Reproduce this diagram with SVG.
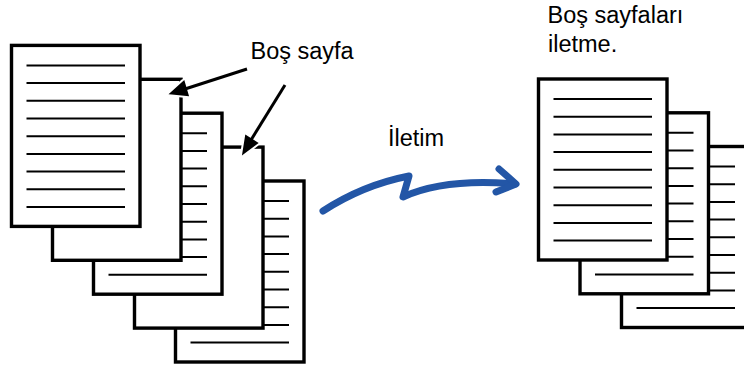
<svg xmlns="http://www.w3.org/2000/svg" xmlns:xlink="http://www.w3.org/1999/xlink" width="744" height="371" viewBox="0 0 744 371">
<style>
.pg{fill:#fff;stroke:#000;stroke-width:3.4;stroke-linejoin:miter}
.ln{stroke:#000;stroke-width:2}
.lbl{font-family:"Liberation Sans",Arial,sans-serif;font-size:23.5px;fill:#000}
.halo{stroke:#fff;stroke-width:7;fill:#fff;stroke-linejoin:round}
.blk{stroke:#000;stroke-width:3;fill:#000}
.blue{fill:none;stroke:#2356a6;stroke-width:7;stroke-linecap:round;stroke-linejoin:round}
</style>
<defs>
<g id="blank"><rect class="pg" x="0" y="0" width="128.5" height="181"/></g>
<g id="lined">
<rect class="pg" x="0" y="0" width="128.5" height="181"/>
<g class="ln">
<line x1="15" y1="20" x2="113.5" y2="20"/>
<line x1="15" y1="37.7" x2="113.5" y2="37.7"/>
<line x1="15" y1="55.4" x2="113.5" y2="55.4"/>
<line x1="15" y1="73.1" x2="113.5" y2="73.1"/>
<line x1="15" y1="90.8" x2="113.5" y2="90.8"/>
<line x1="15" y1="108.5" x2="113.5" y2="108.5"/>
<line x1="15" y1="126.2" x2="113.5" y2="126.2"/>
<line x1="15" y1="143.9" x2="113.5" y2="143.9"/>
<line x1="15" y1="161.6" x2="113.5" y2="161.6"/>
</g>
</g>
</defs>
<rect width="744" height="371" fill="#fff"/>

<g id="left-page5" transform="translate(175.5,181)"><use xlink:href="#lined"/></g>
<g id="left-page4" transform="translate(134.5,147.1)"><use xlink:href="#blank"/></g>
<g id="left-page3" transform="translate(93.5,113.2)"><use xlink:href="#lined"/></g>
<g id="left-page2" transform="translate(52.5,79.3)"><use xlink:href="#blank"/></g>
<g id="left-page1" transform="translate(11.5,45.4)"><use xlink:href="#lined"/></g>

<g id="right-page3" transform="translate(621.5,146.5)"><use xlink:href="#lined"/></g>
<g id="right-page2" transform="translate(580,112.8)"><use xlink:href="#lined"/></g>
<g id="right-page1" transform="translate(538.5,79)"><use xlink:href="#lined"/></g>

<g id="connectors">
<g id="arrow-blank1">
<line class="halo" x1="247" y1="69" x2="185" y2="89"/>
<polygon class="halo" points="172,93 187,94.6 183.5,82.6"/>
<line class="blk" x1="247" y1="69" x2="185" y2="89"/>
<polygon class="blk" points="172,93 187,94.6 183.5,82.6" stroke-width="1"/>
</g>
<g id="arrow-blank2">
<line class="halo" x1="285" y1="85" x2="251" y2="140"/>
<polygon class="halo" points="244,152 256,143 246.4,137"/>
<line class="blk" x1="285" y1="85" x2="251" y2="140"/>
<polygon class="blk" points="244,152 256,143 246.4,137" stroke-width="1"/>
</g>
<g id="transmit-arrow">
<path class="blue" d="M323,211 Q363,185 409,176 L403,197 Q445,178 515,184"/>
<polyline class="blue" points="499,169 516,184 496,192"/>
</g>
</g>

<text class="lbl" x="250.5" y="59.3">Boş sayfa</text>
<text class="lbl" x="388" y="146">İletim</text>
<text class="lbl" x="547.5" y="22.7">Boş sayfaları</text>
<text class="lbl" x="548" y="51.6">iletme.</text>
</svg>
